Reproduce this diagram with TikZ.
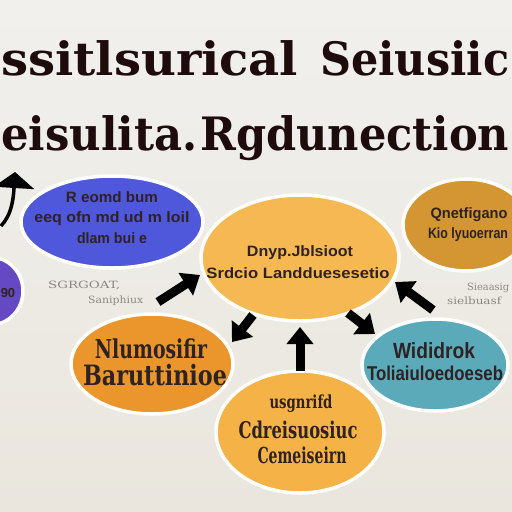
\documentclass[tikz,border=0pt]{standalone}
\usepackage{fontspec}
\usepackage{graphicx}
\usetikzlibrary{shapes.geometric,arrows.meta}
\newfontfamily\titlefont{DejaVu Serif}
\newfontfamily\lblfont{Liberation Sans}
\newfontfamily\serfont{DejaVu Serif}
\definecolor{bgtop}{HTML}{F1F0ED}
\definecolor{bgbot}{HTML}{EAE6DE}
\definecolor{titlec}{HTML}{1E0C0C}
\definecolor{txtc}{HTML}{2E2222}
\definecolor{grayt}{HTML}{8C8782}
\definecolor{cblue}{HTML}{4F57DA}
\definecolor{cpurple}{HTML}{6448C4}
\definecolor{ccenter}{HTML}{F6B852}
\definecolor{cgold}{HTML}{D49632}
\definecolor{clleft}{HTML}{EA962D}
\definecolor{cbottom}{HTML}{F5B246}
\definecolor{cteal}{HTML}{5AAAB9}
\newcommand\fitw[2]{\resizebox{#1pt}{\height}{#2}}
\tikzset{
  bubble/.style={ellipse, draw=white, line width=3.5pt, inner sep=0pt},
  lbl/.style={inner sep=0pt, anchor=base, text=txtc, font=\lblfont\bfseries\fontsize{15}{15}\selectfont},
  serlbl/.style={inner sep=0pt, anchor=base, text=txtc},
  ttl/.style={inner sep=0pt, anchor=base west, text=titlec, font=\titlefont\bfseries\fontsize{46}{46}\selectfont},
  smallgray/.style={inner sep=0pt, anchor=base west, text=grayt, font=\serfont\fontsize{10}{10}\selectfont},
  bigarrow/.style={draw=black, line width=9pt, -{Triangle[length=17pt,width=26pt]}}
}
\begin{document}
\begin{tikzpicture}[x=1pt,y=-1pt]
\useasboundingbox (0,0) rectangle (512,512);
\clip (0,0) rectangle (512,512);
\shade[top color=bgtop,bottom color=bgbot] (0,0) rectangle (512,512);

% title
\node[ttl] (t1a) at (1,75) {\fitw{297}{ssitlsurical}};
\node[ttl] (t1b) at (320,75) {\fitw{189}{Seiusiic}};
\node[ttl] (t2a) at (1,150) {\fitw{196}{eisulita.}};
\node[ttl] (t2b) at (200,150) {\fitw{309}{Rgdunection}};

% bubbles
\node[bubble, fill=cblue, minimum width=182pt, minimum height=92pt] (blue) at (112,222) {};
\node[bubble, fill=cpurple, minimum width=66pt, minimum height=68pt] (purple) at (-10,291) {};
\node[bubble, fill=cgold, minimum width=126pt, minimum height=92pt] (gold) at (466,225) {};
\node[bubble, fill=ccenter, minimum width=198pt, minimum height=126pt] (center) at (300,258) {};
\node[bubble, fill=clleft, minimum width=162pt, minimum height=100pt] (lleft) at (152,364) {};
\node[bubble, fill=cteal, minimum width=146pt, minimum height=92pt] (teal) at (435,365) {};
\node[bubble, fill=cbottom, minimum width=168pt, minimum height=122pt] (bottom) at (300,432) {};

% bubble texts
\node[lbl] (b1) at (112,202) {\fitw{92}{R eomd bum}};
\node[lbl] (b2) at (112,222) {\fitw{155}{eeq ofn md ud m loil}};
\node[lbl] (b3) at (112,243) {\fitw{70}{dlam bui e}};
\node[lbl, font=\lblfont\bfseries\fontsize{13}{13}\selectfont] (p1) at (8,297) {90};
\node[lbl] (c1) at (300,256) {\fitw{106}{Dnyp.Jblsioot}};
\node[lbl] (c2) at (298,278) {\fitw{183}{Srdcio Landduesesetio}};
\node[lbl] (g1) at (469,218) {\fitw{77}{Qnetfigano}};
\node[lbl] (g2) at (468,238) {\fitw{80}{Kio lyuoerran}};
\node[serlbl, font=\serfont\bfseries\fontsize{26}{26}\selectfont] (l1) at (151,358) {\fitw{112}{Nlumosifir}};
\node[serlbl, font=\serfont\bfseries\fontsize{28}{28}\selectfont] (l2) at (155,385) {\fitw{144}{Baruttinioe}};
\node[lbl, font=\lblfont\bfseries\fontsize{22}{22}\selectfont] (t1) at (434,358) {\fitw{82}{Wididrok}};
\node[lbl, font=\lblfont\bfseries\fontsize{20}{20}\selectfont] (t2) at (435,380) {\fitw{136}{Toliaiuloedoeseb}};
\node[serlbl, font=\serfont\bfseries\fontsize{18}{18}\selectfont] (o1) at (301,408) {\fitw{63}{usgnrifd}};
\node[serlbl, font=\serfont\bfseries\fontsize{23}{23}\selectfont] (o2) at (298,438) {\fitw{119}{Cdreisuosiuc}};
\node[serlbl, font=\serfont\bfseries\fontsize{22}{22}\selectfont] (o3) at (302,463) {\fitw{89}{Cemeiseirn}};

% gray small texts
\node[smallgray] (s1) at (48,288) {\fitw{72}{SGRGOAT,}};
\node[smallgray] (s2) at (88,303) {\fitw{55}{Saniphiux}};
\node[smallgray] (s3) at (467,290) {\fitw{42}{Sieaasig}};
\node[smallgray] (s4) at (447,304) {\fitw{54}{sielbuasf}};

% arrows
\coordinate (a0s) at (1,226);
\coordinate (a0e) at (15,172);
\draw[draw=black, line width=3.5pt, -{Triangle[length=16pt,width=40pt]}]
  (a0s) .. controls (10,216) and (13,205) .. (a0e);
\coordinate (a1s) at (158,302);
\coordinate (a1e) at (200,275);
\draw[bigarrow] (a1s) -- (a1e);
\coordinate (a2s) at (253,315);
\coordinate (a2e) at (232,342);
\draw[bigarrow] (a2s) -- (a2e);
\coordinate (a3s) at (300,371);
\coordinate (a3e) at (300,327);
\draw[bigarrow] (a3s) -- (a3e);
\coordinate (a4s) at (348,313);
\coordinate (a4e) at (375,334);
\draw[bigarrow] (a4s) -- (a4e);
\coordinate (a5s) at (433,310);
\coordinate (a5e) at (395,282);
\draw[bigarrow] (a5s) -- (a5e);
\end{tikzpicture}
\end{document}
